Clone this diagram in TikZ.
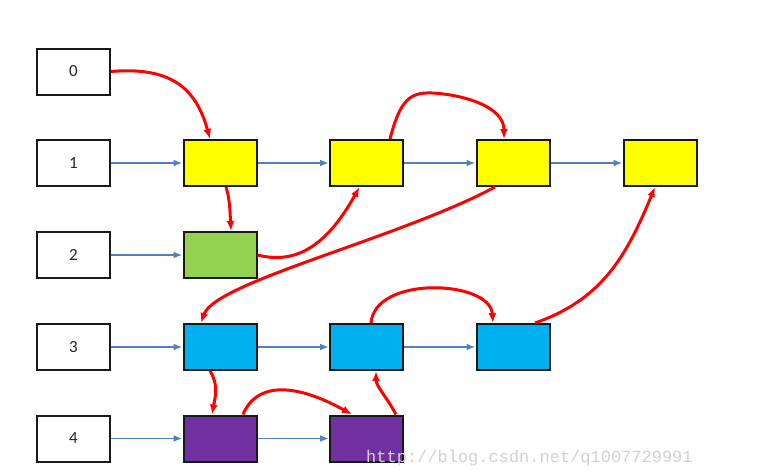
\documentclass[tikz,border=0pt]{standalone}
\usepackage{fontspec}
\setmainfont{Carlito}
\newfontfamily\wmfont{Liberation Mono}
\usetikzlibrary{arrows.meta,calc}
\definecolor{linkblue}{HTML}{4F81BD}
\definecolor{boxyellow}{HTML}{FFFF00}
\definecolor{boxgreen}{HTML}{92D050}
\definecolor{boxblue}{HTML}{00B0F0}
\definecolor{boxpurple}{HTML}{7030A0}
\definecolor{redline}{HTML}{FF0000}
\tikzset{
  cell/.style={draw=black!90, line width=2pt, minimum width=73pt, minimum height=46pt, inner sep=0pt},
  idxbox/.style={cell, fill=white, font=\fontsize{17}{19}\selectfont, text=black!85},
  bluelink/.style={draw=linkblue, line width=1.8pt, -{Latex[length=9pt,width=7pt]}},
  redlink/.style={draw=redline, line width=3pt, -{Latex[length=10pt,width=8pt]}},
}
\begin{document}
\begin{tikzpicture}[x=1pt,y=-1pt]
\useasboundingbox (0,0) rectangle (778,471);
% index column
\node[idxbox] (idx0) at (73.5,71.5) {0};
\node[idxbox] (idx1) at (73.5,163) {1};
\node[idxbox] (idx2) at (73.5,255) {2};
\node[idxbox] (idx3) at (73.5,347) {3};
\node[idxbox] (idx4) at (73.5,438.5) {4};
% row 1
\node[cell, fill=boxyellow] (c11) at (220,163) {};
\node[cell, fill=boxyellow] (c12) at (366.5,163) {};
\node[cell, fill=boxyellow] (c13) at (513,163) {};
\node[cell, fill=boxyellow] (c14) at (660,163) {};
% row 2
\node[cell, fill=boxgreen] (c21) at (220,255) {};
% row 3
\node[cell, fill=boxblue] (c31) at (220,347) {};
\node[cell, fill=boxblue] (c32) at (366.5,347) {};
\node[cell, fill=boxblue] (c33) at (513,347) {};
% row 4
\node[cell, fill=boxpurple] (c41) at (220,438.5) {};
\node[cell, fill=boxpurple] (c42) at (366.5,438.5) {};
% blue links
\draw[bluelink] (idx1.east) -- (c11.west);
\draw[bluelink] (c11.east) -- (c12.west);
\draw[bluelink] (c12.east) -- (c13.west);
\draw[bluelink] (c13.east) -- (c14.west);
\draw[bluelink] (idx2.east) -- (c21.west);
\draw[bluelink] (idx3.east) -- (c31.west);
\draw[bluelink] (c31.east) -- (c32.west);
\draw[bluelink] (c32.east) -- (c33.west);
\draw[bluelink] (idx4.east) -- (c41.west);
\draw[bluelink] (c41.east) -- (c42.west);
% red links
\draw[redlink] (idx0.east) .. controls (175,66) and (197,92) .. ($(c11.north)+(-10,0)$);
\draw[redlink] ($(c11.south)+(6,0)$) .. controls (230,200) and (230,212) .. ($(c21.north)+(11,0)$);
\draw[redlink] (c21.east) .. controls (300,266) and (330,240) .. ($(c12.south)+(-7,0)$);
\draw[redlink] ($(c12.north)+(23.5,0)$) .. controls (400,100) and (410,92) .. (432,93) .. controls (462,94.5) and (504,106) .. ($(c13.north)+(-9,0)$);
\draw[redlink] ($(c13.south)+(-18,0)$) .. controls (400,238) and (215,282) .. ($(c31.north)+(-19,0)$);
\draw[redlink] ($(c31.south)+(-10,0)$) .. controls (219,385) and (215,398) .. ($(c41.north)+(-8,0)$);
\draw[redlink] ($(c41.north)+(23,0)$) .. controls (255,385) and (290,380) .. ($(c42.north)+(-14.5,0)$);
\draw[redlink] ($(c42.north)+(29.5,0)$) .. controls (386,396) and (376,386) .. ($(c32.south)+(9.5,0)$);
\draw[redlink] ($(c32.north)+(4.5,0)$) .. controls (375,275) and (490,280) .. ($(c33.north)+(-20,0)$);
\draw[redlink] ($(c33.north)+(22,0)$) .. controls (600,300) and (625,260) .. ($(c14.south)+(-5,0)$);
% watermark
\node[anchor=west, inner sep=0pt, text=black!18, font=\wmfont\fontsize{17}{19}\selectfont] (wm) at (366,458) {http://blog.csdn.net/q1007729991};
\end{tikzpicture}
\end{document}
